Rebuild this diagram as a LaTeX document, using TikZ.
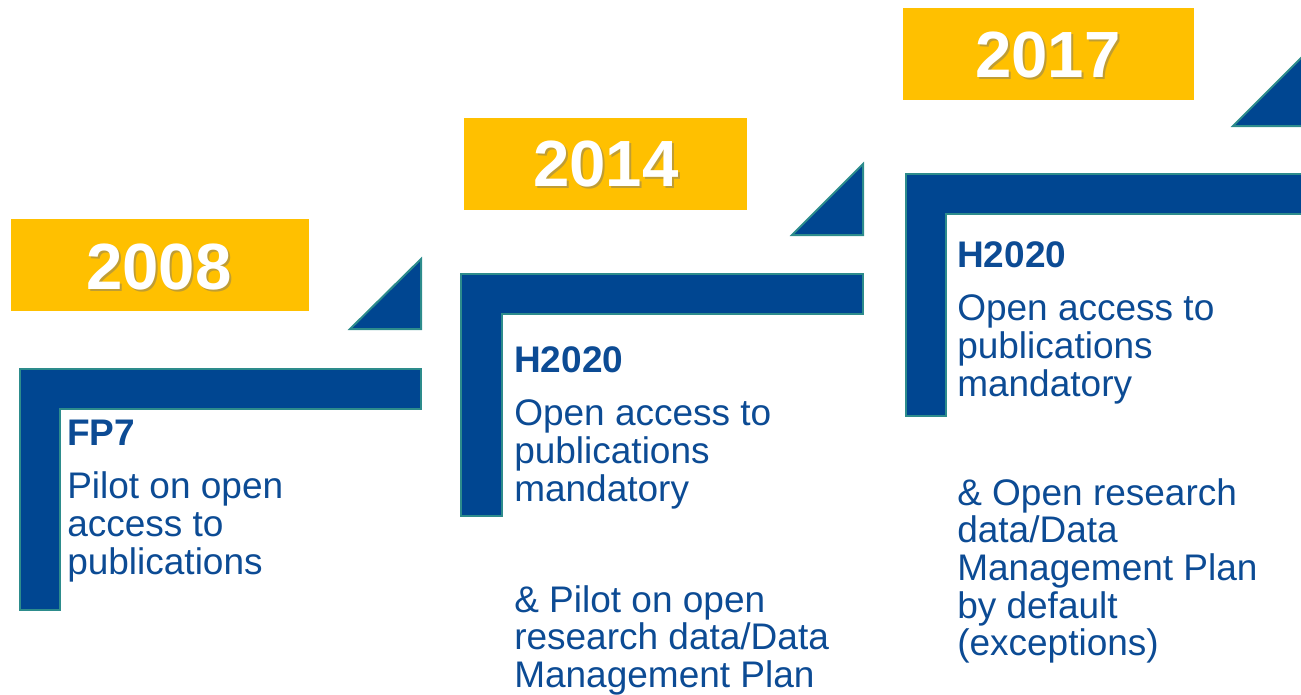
\documentclass[tikz,border=0pt]{standalone}
\usepackage{fontspec}
\setmainfont{Liberation Sans}
\definecolor{eublue}{RGB}{0,70,145}
\definecolor{txtblue}{RGB}{12,75,148}
\definecolor{eugold}{RGB}{255,192,0}
\definecolor{edgeteal}{RGB}{45,140,140}
\begin{document}
\begin{tikzpicture}[x=0.75pt,y=-0.75pt,
  stepshape/.style={fill=eublue,draw=edgeteal,line width=1.5pt,line join=miter},
  yearbox/.style={fill=eugold,draw=none,inner sep=0},
  yeartext/.style={font=\fontsize{49}{49}\bfseries\selectfont,text=white,inner sep=0},
  shadowtext/.style={yeartext,text=black!55,opacity=0.45},
  txtline/.style={anchor=base west,inner sep=0,text=txtblue,font=\fontsize{27.75}{28.5}\selectfont},
  headline/.style={txtline,font=\fontsize{27.75}{28.5}\bfseries\selectfont}]
\useasboundingbox (0,0) rectangle (1301,694);
\clip (0,0) rectangle (1301,694);

% ---- 2008 ----
\node[yearbox,minimum width=223.5pt,minimum height=69pt] (b1) at (160,265) {};
\node[shadowtext] (y1s) at (161,269) {2008};
\node[yeartext] (y1) at (159,267) {2008};
\draw[stepshape] (350,329) -- (421,329) -- (421,259) -- cycle;
\draw[stepshape] (20,369) -- (421,369) -- (421,409) -- (60,409) -- (60,610) -- (20,610) -- cycle;
\node[headline] (h1) at (67,445) {FP7};
\node[txtline] (t1a) at (67,498) {Pilot on open};
\node[txtline] (t1b) at (67,536) {access to};
\node[txtline] (t1c) at (67,574) {publications};

% ---- 2014 ----
\node[yearbox,minimum width=212.25pt,minimum height=69pt] (b2) at (605.5,164) {};
\node[shadowtext] (y2s) at (608,166) {2014};
\node[yeartext] (y2) at (606,164) {2014};
\draw[stepshape] (792,235) -- (863,235) -- (863,164) -- cycle;
\draw[stepshape] (461,274) -- (863,274) -- (863,314) -- (502,314) -- (502,516) -- (461,516) -- cycle;
\node[headline] (h2) at (514,372) {H2020};
\node[txtline] (t2a) at (514,425) {Open access to};
\node[txtline] (t2b) at (514,463) {publications};
\node[txtline] (t2c) at (514,501) {mandatory};
\node[txtline] (t2d) at (514,612) {\& Pilot on open};
\node[txtline] (t2e) at (514,649) {research data/Data};
\node[txtline] (t2f) at (514,687) {Management Plan};

% ---- 2017 ----
\node[yearbox,minimum width=218.25pt,minimum height=69pt] (b3) at (1048.5,54) {};
\node[shadowtext] (y3s) at (1050,57) {2017};
\node[yeartext] (y3) at (1048,55) {2017};
\draw[stepshape] (1233,126) -- (1305,126) -- (1305,54) -- cycle;
\draw[stepshape] (906,174) -- (1310,174) -- (1310,214) -- (946,214) -- (946,416) -- (906,416) -- cycle;
\node[headline] (h3) at (957,267) {H2020};
\node[txtline] (t3a) at (957,320) {Open access to};
\node[txtline] (t3b) at (957,358) {publications};
\node[txtline] (t3c) at (957,396) {mandatory};
\node[txtline] (t3d) at (957,505) {\& Open research};
\node[txtline] (t3e) at (957,542) {data/Data};
\node[txtline] (t3f) at (957,580) {Management Plan};
\node[txtline] (t3g) at (957,618) {by default};
\node[txtline] (t3h) at (957,655) {(exceptions)};
\end{tikzpicture}
\end{document}
